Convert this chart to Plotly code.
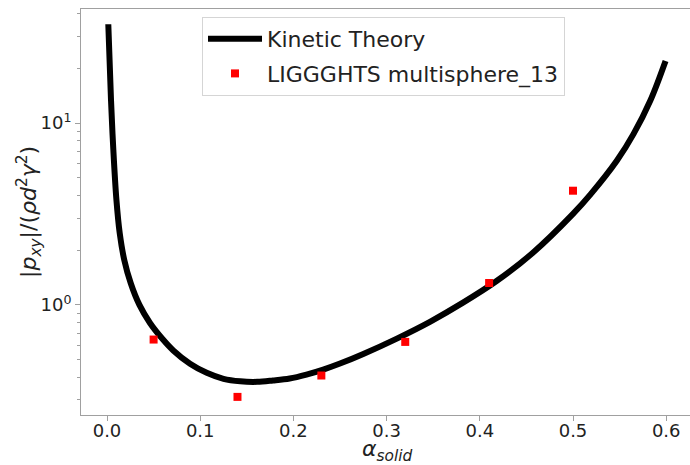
import plotly.graph_objects as go

# Kinetic theory curve
kt_alpha = [0.0014, 0.0043, 0.0068, 0.0101, 0.0136, 0.0185, 0.0254, 0.0348, 0.0461, 0.0601,
            0.0711, 0.0891, 0.107, 0.125, 0.143, 0.161, 0.178, 0.196, 0.214, 0.232,
            0.250, 0.275, 0.311, 0.347, 0.382, 0.418, 0.457, 0.500, 0.519, 0.547,
            0.565, 0.583, 0.5993]
kt_stress = [35.0, 13.4, 7.13, 3.79, 2.49, 1.77, 1.32, 1.00, 0.796, 0.645,
             0.562, 0.4746, 0.423, 0.392, 0.380, 0.3775, 0.384, 0.394, 0.414, 0.441,
             0.476, 0.5375, 0.653, 0.810, 1.029, 1.353, 1.936, 3.166, 4.068, 6.21,
             8.73, 13.33, 22.0]

# LIGGGHTS multisphere_13 data points
dem_alpha = [0.05, 0.14, 0.23, 0.32, 0.41, 0.50]
dem_stress = [0.645, 0.312, 0.409, 0.626, 1.32, 4.25]

x_tick_vals = [0.0, 0.1, 0.2, 0.3, 0.4, 0.5, 0.6]
x_tick_text = ["0.0", "0.1", "0.2", "0.3", "0.4", "0.5", "0.6"]
y_tick_vals = [1, 10]
y_tick_text = ["10<sup>0</sup>", "10<sup>1</sup>"]
y_minor_vals = [0.3, 0.4, 0.5, 0.6, 0.7, 0.8, 0.9, 2, 3, 4, 5, 6, 7, 8, 9, 20, 30, 40]

W, H = 690, 465
L, R, T, B = 81, 0, 9, 50
pw, ph = W - L - R, H - T - B

def px(xp):
    return (xp - L) / pw

def py(yp):
    return (H - B - yp) / ph

fig = go.Figure()
fig.add_trace(go.Scatter(
    x=kt_alpha, y=kt_stress, mode="lines", name="Kinetic Theory",
    line=dict(color="black", width=6, shape="spline", smoothing=1.0),
    legendgroup="a",
))
fig.add_trace(go.Scatter(
    x=dem_alpha, y=dem_stress, mode="markers", name="LIGGGHTS multisphere_13",
    marker=dict(symbol="square", size=8, color="#ff0000", line=dict(width=0)),
    legendgroup="b",
))

axis_col = "#a0a0a0"
fig.update_layout(
    width=W, height=H,
    margin=dict(l=L, r=R, t=T, b=B),
    plot_bgcolor="white", paper_bgcolor="white",
    font=dict(family="DejaVu Sans", size=18, color="#222222"),
    showlegend=True,
    legend=dict(
        x=px(202), y=py(17), xanchor="left", yanchor="top",
        bordercolor="#d5d5d5", borderwidth=1, bgcolor="rgba(255,255,255,0.85)",
        font=dict(size=22, color="#222222"),
        traceorder="grouped", tracegroupgap=3, itemwidth=54,
    ),
    xaxis=dict(
        range=[(L - 107) / 932, (W - 107) / 932],
        tickmode="array", tickvals=x_tick_vals, ticktext=x_tick_text,
        showgrid=False, zeroline=False,
        showline=True, linecolor=axis_col, linewidth=1, mirror=True,
        ticks="outside", ticklen=5, tickcolor=axis_col, tickwidth=1,
        ticklabelstandoff=-6,
    ),
    yaxis=dict(
        type="log", range=[-0.6055, 1.628],
        tickmode="array", tickvals=y_tick_vals, ticktext=y_tick_text,
        showgrid=False, zeroline=False,
        showline=True, linecolor=axis_col, linewidth=1, mirror=False,
        ticks="outside", ticklen=5, tickcolor=axis_col, tickwidth=1,
        minor=dict(tickmode="array", tickvals=y_minor_vals, ticks="outside",
                   ticklen=3, tickcolor=axis_col, tickwidth=1, showgrid=False),
    ),
    annotations=[
        dict(text="<i>α</i><sub><i>solid</i></sub>", xref="paper", yref="paper",
             x=px(387), y=py(450), xanchor="center", yanchor="middle",
             showarrow=False, font=dict(size=22, color="#222222")),
        dict(text="|<i>p</i><sub><i>xy</i></sub>|/(<i>ρd</i><sup>2</sup><i>γ</i><sup>2</sup>)",
             xref="paper", yref="paper", x=px(29), y=py(212),
             xanchor="center", yanchor="middle", textangle=-90,
             showarrow=False, font=dict(size=22, color="#222222")),
    ],
)

fig.write_html("out.html")
